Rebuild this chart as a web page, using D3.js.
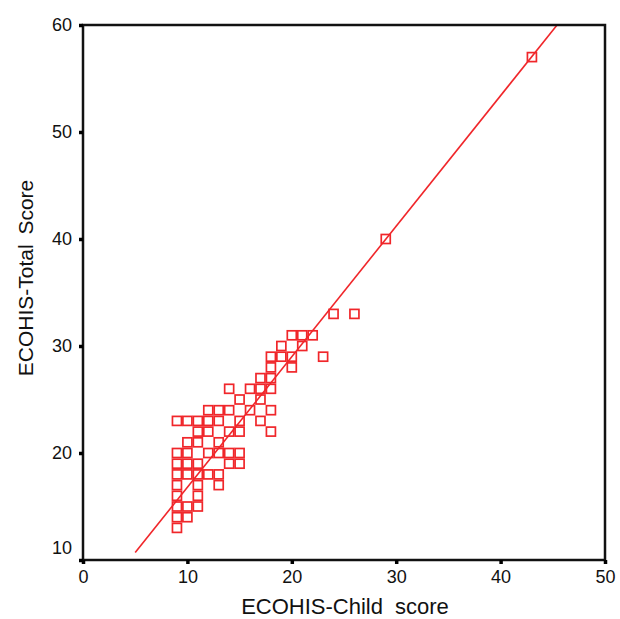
<!DOCTYPE html>
<html>
<head>
<meta charset="utf-8">
<script src="https://cdn.jsdelivr.net/npm/d3@7"></script>
<style>
  body { margin: 0; background: #fff; }
  svg { font-family: "Liberation Sans", Arial, sans-serif; }
</style>
</head>
<body>
<svg id="chart"></svg>
<script>
// ECOHIS child score vs total score
const childScore = [24, 26, 20, 21, 22, 19, 21, 18, 19, 20, 23, 18, 20, 17, 18,
  14, 16, 17, 18, 15, 17, 12, 13, 14, 16, 18, 9, 10, 11, 12, 13, 15, 17,
  11, 12, 14, 15, 18, 10, 11, 13, 9, 10, 12, 13, 14, 15, 9, 10, 11, 14, 15,
  9, 10, 11, 12, 13, 9, 11, 13, 9, 11, 9, 10, 11, 9, 10, 9, 29, 43];
const totalScore = [33, 33, 31, 31, 31, 30, 30, 29, 29, 29, 29, 28, 28, 27, 27,
  26, 26, 26, 26, 25, 25, 24, 24, 24, 24, 24, 23, 23, 23, 23, 23, 23, 23,
  22, 22, 22, 22, 22, 21, 21, 21, 20, 20, 20, 20, 20, 20, 19, 19, 19, 19, 19,
  18, 18, 18, 18, 18, 17, 17, 17, 16, 16, 15, 15, 15, 14, 14, 13, 40, 57];
const xTicks = [0, 10, 20, 30, 40, 50];
const yTicks = [10, 20, 30, 40, 50, 60];
// fitted line: total = a + b * child
const fitIntercept = 4.6;
const fitSlope = 1.22;
const fitStart = 5;

const width = 620, height = 619;
const margin = { top: 25, right: 15, bottom: 59, left: 83 };
const innerW = 605 - margin.left, innerH = 560 - margin.top;

const svg = d3.select('#chart').attr('width', width).attr('height', height);
const g = svg.append('g').attr('transform', `translate(${margin.left},${margin.top})`);

const x = d3.scaleLinear().domain([0, 50]).range([0, innerW]);
const y = d3.scaleLinear().domain([10, 60]).range([innerH, 0]);

const red = '#f0262a';

// fit line, clipped at the top of the frame
const fitEnd = (60 - fitIntercept) / fitSlope;
g.append('line')
  .attr('x1', x(fitStart)).attr('y1', y(fitIntercept + fitSlope * fitStart))
  .attr('x2', x(fitEnd)).attr('y2', y(60))
  .attr('stroke', red).attr('stroke-width', 1.6);

// points
const pts = childScore.map((c, i) => ({ c, t: totalScore[i] }));
const s = 9;
g.selectAll('rect.pt').data(pts).join('rect')
  .attr('class', 'pt')
  .attr('x', d => x(d.c) - s / 2)
  .attr('y', d => y(d.t) - s / 2)
  .attr('width', s).attr('height', s)
  .attr('fill', 'none')
  .attr('stroke', red)
  .attr('stroke-width', 1.7);

// frame
g.append('rect')
  .attr('width', innerW).attr('height', innerH)
  .attr('fill', 'none').attr('stroke', '#111').attr('stroke-width', 2.5);

// axes
const xAxis = g.append('g')
  .attr('transform', `translate(0,${innerH})`)
  .call(d3.axisBottom(x).tickValues(xTicks).tickSize(4).tickPadding(6));
const yAxis = g.append('g')
  .call(d3.axisLeft(y).tickValues(yTicks).tickSize(4).tickPadding(7));
[xAxis, yAxis].forEach(a => {
  a.select('.domain').remove();
  a.selectAll('.tick line').attr('stroke', '#000').attr('stroke-width', 3.5);
  a.selectAll('.tick text').attr('fill', '#111').style('font-size', '18px');
});
// bottom y label sits a little above the corner
yAxis.selectAll('.tick text').filter(d => d === 10).attr('dy', '-0.35em');

// titles
svg.append('text')
  .attr('x', margin.left + innerW / 2 + 1).attr('y', 614)
  .attr('text-anchor', 'middle')
  .style('font-size', '22px').style('word-spacing', '6px').attr('fill', '#111')
  .text('ECOHIS-Child score');
svg.append('text')
  .attr('transform', `translate(33,${278}) rotate(-90)`)
  .attr('text-anchor', 'middle')
  .style('font-size', '21px').style('word-spacing', '4px').attr('fill', '#111')
  .text('ECOHIS-Total Score');
</script>
</body>
</html>
